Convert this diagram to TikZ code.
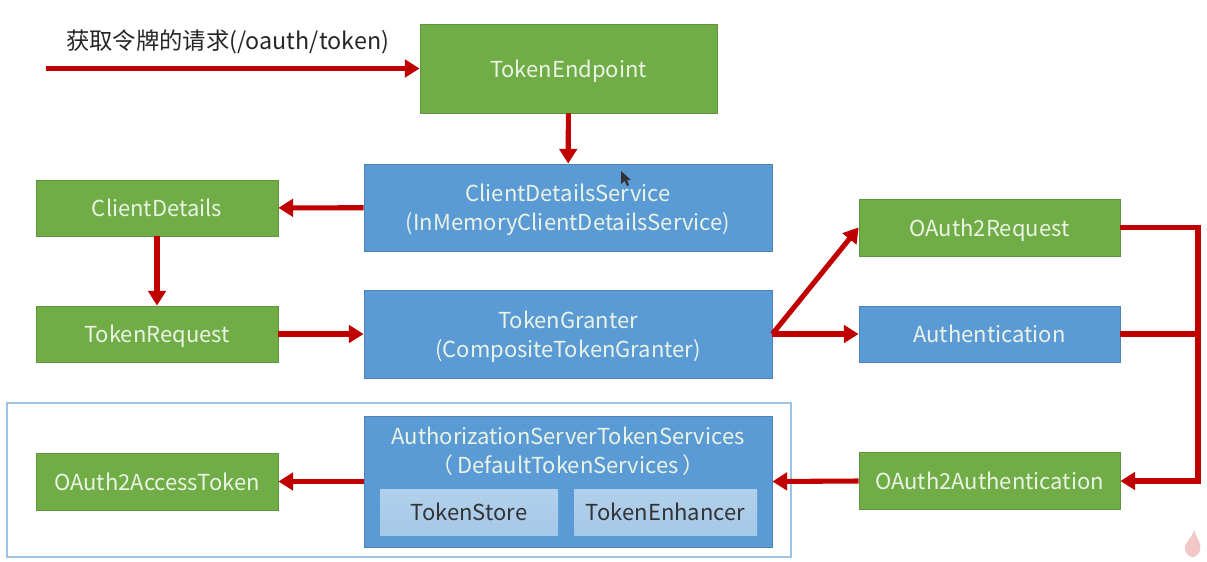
\documentclass[tikz,border=0pt]{standalone}
\usepackage{fontspec}
\setmainfont{Noto Sans CJK SC}
\usetikzlibrary{arrows.meta}
\definecolor{boxgreen}{HTML}{70AD47}
\definecolor{boxblue}{HTML}{5B9BD5}
\definecolor{flowred}{HTML}{C00000}
\definecolor{boxtext}{HTML}{EAF3E4}
\tikzset{
  box/.style={draw=#1!85!black,line width=0.6pt,fill=#1,text=boxtext,align=center,inner sep=0pt,text depth=0pt,
    font=\fontsize{16.5}{22}\selectfont},
  greenbox/.style={box=boxgreen},
  bluebox/.style={box=boxblue},
  innerbox/.style={top color=#1!85!white,bottom color=#1,text=black!80,inner sep=0pt,minimum height=34.5pt,text depth=0pt,
    font=\fontsize{16.5}{22}\selectfont},
  flow/.style={draw=flowred,line width=3.8pt,-{Triangle[length=11pt,width=13pt]}},
  flowline/.style={draw=flowred,line width=3.8pt},
}
\begin{document}
\begin{tikzpicture}[x=0.75pt,y=-0.75pt]
  \useasboundingbox (0,0) rectangle (1207,561);
  % frame round the last row
  \draw[draw=boxblue!60,line width=0.9pt] (7,403) rectangle (791,557);

  % top row
  \node[anchor=west,text=black!85,inner sep=0pt,font=\fontsize{17.5}{22}\selectfont] (request) at (66,42) {获取令牌的请求(/oauth/token)};
  \coordinate (start) at (46,68.5);
  \node[greenbox,minimum width=222.75pt,minimum height=66.75pt] (endpoint) at (568.5,68.5) {TokenEndpoint};

  % left column
  \node[greenbox,minimum width=181.5pt,minimum height=42pt] (details) at (157,208) {ClientDetails};
  \node[greenbox,minimum width=181.5pt,minimum height=42pt] (tokenrequest) at (157,334) {TokenRequest};
  \node[greenbox,minimum width=181.5pt,minimum height=42.75pt] (accesstoken) at (157,481.5) {OAuth2AccessToken};

  % middle column
  \node[bluebox,minimum width=306pt,minimum height=65.25pt] (detailsservice) at (568,207.5) {ClientDetailsService\\(InMemoryClientDetailsService)};
  \node[bluebox,minimum width=306pt,minimum height=66pt] (granter) at (568,334) {TokenGranter\\(CompositeTokenGranter)};
  \node[bluebox,minimum width=306pt,minimum height=98.25pt] (services) at (568,481.5) {};
  \node[text=boxtext,align=center,font=\fontsize{16.5}{22}\selectfont] (servicestext) at (568,451) {AuthorizationServerTokenServices\\（\,DefaultTokenServices\,）};
  \node[innerbox=boxblue!55!white,minimum width=133.5pt] (store) at (469,512) {TokenStore};
  \node[innerbox=boxblue!55!white,minimum width=137.25pt] (enhancer) at (665.5,512) {TokenEnhancer};

  % right column
  \node[greenbox,minimum width=195.75pt,minimum height=42.75pt] (oauthrequest) at (989.5,227.5) {OAuth2Request};
  \node[bluebox,minimum width=195.75pt,minimum height=42pt] (authentication) at (989.5,334) {Authentication};
  \node[greenbox,minimum width=195.75pt,minimum height=42.75pt] (oauthauth) at (989.5,481) {OAuth2Authentication};
  \coordinate (bus) at (1198,334);

  % connectors
  \draw[flow] (start) -- (endpoint.west);
  \draw[flow] (endpoint) -- (detailsservice);
  \draw[flow] (detailsservice) -- (details);
  \draw[flow] (details) -- (tokenrequest);
  \draw[flow] (tokenrequest) -- (granter);
  \draw[flow] (granter.east) -- (oauthrequest.west);
  \draw[flow] (granter.east) -- (authentication.west);
  \draw[flowline] (oauthrequest.east) -| (bus);
  \draw[flowline] (authentication.east) -- (bus);
  \draw[flow] (bus) |- (oauthauth.east);
  \draw[flow] (oauthauth.west) -- (services.east);
  \draw[flow] (services.west) -- (accesstoken.east);

  % cursor
  \fill[black!80] (621,171) -- (621,184) -- (624.5,181) -- (627,186) -- (629,185) -- (627,180) -- (631,180) -- cycle;
  % flame
  \fill[flowred!22] (1194,530) .. controls (1196,538) and (1202,542) .. (1200,550)
    .. controls (1199,555) and (1195,557) .. (1192,557)
    .. controls (1187,556) and (1184,551) .. (1185,546)
    .. controls (1186,542) and (1192,538) .. (1194,530) -- cycle;
\end{tikzpicture}
\end{document}
